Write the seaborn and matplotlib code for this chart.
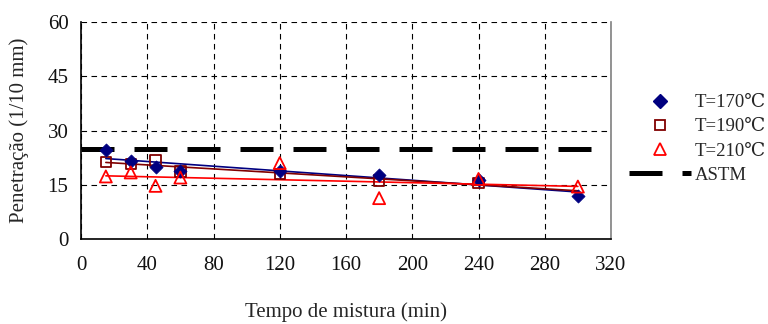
import numpy as np
import pandas as pd
import matplotlib
matplotlib.use("Agg")
import matplotlib.pyplot as plt
import seaborn as sns

# ---- data ----
tempo = [15, 30, 45, 60, 120, 180, 240, 300]
t170 = [24.5, 21.6, 20.0, 18.9, 18.7, 17.8, 16.4, 11.8]
tempo_190 = [15, 30, 45, 60, 120, 180, 240]
t190 = [21.3, 20.7, 21.7, 18.7, 18.0, 16.2, 15.5]
t210 = [17.3, 18.4, 14.7, 17.0, 21.0, 11.3, 16.6, 14.5]
astm = 25
labels = ["T=170\u2103", "T=190\u2103", "T=210\u2103", "ASTM"]
xticks = [0, 40, 80, 120, 160, 200, 240, 280, 320]
yticks = [0, 15, 30, 45, 60]

sns.set_style("white")
plt.rcParams['font.family'] = ['Liberation Serif', 'DejaVu Serif']
plt.rcParams['font.size'] = 15

fig = plt.figure(figsize=(7.68, 3.24), dpi=100)
ax = fig.add_axes([81/768, 1-239/324, (611-81)/768, (239-22)/324])

c170, c190, c210 = "#000080", "#800000", "#FF0000"

# ASTM reference line
astm_line, = ax.plot([0, 320], [astm, astm], color="black", lw=3.6,
                     dashes=(6.6, 4.0), solid_capstyle="butt", dash_capstyle="butt", zorder=2)

# trend lines (linear fits)
def trend(xs, ys, color):
    p = np.polyfit(xs, ys, 1)
    xl = np.array([15, 300])
    df = pd.DataFrame({"x": xl, "y": np.polyval(p, xl)})
    sns.lineplot(data=df, x="x", y="y", color=color, lw=1.2, ax=ax, zorder=3)

trend(tempo, t170, c170)
trend(tempo_190, t190, c190)
trend(tempo, t210, c210)

d190 = pd.DataFrame({"x": tempo_190, "y": t190})
d170 = pd.DataFrame({"x": tempo, "y": t170})
d210 = pd.DataFrame({"x": tempo, "y": t210})
sns.scatterplot(data=d190, x="x", y="y", marker="s", s=55, facecolor="none",
                edgecolor=c190, linewidth=1.3, ax=ax, zorder=4)
sns.scatterplot(data=d170, x="x", y="y", marker="D", s=45, color=c170,
                edgecolor=c170, linewidth=0.5, ax=ax, zorder=5)
sns.scatterplot(data=d210, x="x", y="y", marker="^", s=75, facecolor="none",
                edgecolor=c210, linewidth=1.3, ax=ax, zorder=6)

ax.set_xlim(0, 320)
ax.set_ylim(0, 60)
ax.set_xticks(xticks)
ax.set_yticks(yticks)
ax.grid(True, color="black", lw=0.8, linestyle=(0, (5, 4)))
ax.set_axisbelow(True)
ax.spines["top"].set_visible(False)
ax.spines["right"].set_color("#808080")
ax.spines["right"].set_linewidth(1.2)
ax.spines["left"].set_color("black")
ax.spines["bottom"].set_color("black")
ax.spines["left"].set_linewidth(1.2)
ax.spines["bottom"].set_linewidth(1.2)
ax.tick_params(axis="x", direction="inout", length=8, width=1, colors="black", pad=8)
ax.tick_params(axis="y", direction="out", length=6, width=1, colors="black", pad=3)
ax.tick_params(labelsize=15, labelcolor="#111111")
ax.set_xlabel("Tempo de mistura (min)", fontsize=15, labelpad=20)
ax.set_ylabel("Penetra\u00e7\u00e3o (1/10 mm)", fontsize=15, labelpad=13)

from matplotlib.lines import Line2D
handles = [
    Line2D([], [], marker="D", color=c170, markerfacecolor=c170, markersize=7, linestyle="none"),
    Line2D([], [], marker="s", color=c190, markerfacecolor="none", markersize=7, mew=1.3, linestyle="none"),
    Line2D([], [], marker="^", color=c210, markerfacecolor="none", markersize=8, mew=1.3, linestyle="none"),
    Line2D([], [], color="black", lw=3.6, dashes=(6.6, 4.0), dash_capstyle="butt"),
]
fig.legend(handles, labels, loc="center left", bbox_to_anchor=(629/768, 1-139/324),
           frameon=False, fontsize=13.5, handlelength=3.3, handletextpad=0.2,
           labelspacing=0.38, borderpad=0, borderaxespad=0)

fig.savefig("out.png", dpi=100)
